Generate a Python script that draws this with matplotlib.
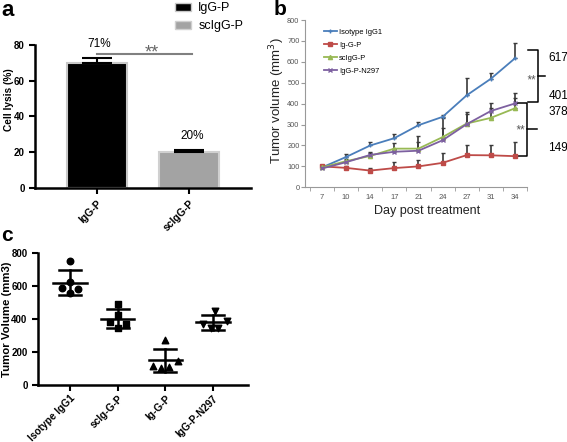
import numpy as np
import matplotlib
matplotlib.use("Agg")
import matplotlib.pyplot as plt
from matplotlib.patches import Patch

plt.rcParams['font.family'] = ['Liberation Sans', 'DejaVu Sans']

# ---- panel a data
a_labels = ["IgG-P", "scIgG-P"]
a_values = [70, 20]
a_err = [2.5, 1.5]
a_pct = ["71%", "20%"]

# ---- panel b data
days = [7, 10, 14, 17, 21, 24, 27, 31, 34]
iso = [95, 145, 200, 235, 297, 337, 440, 519, 617]
igg = [100, 93, 80, 92, 100, 117, 154, 153, 149]
scigg = [95, 125, 150, 185, 185, 240, 305, 332, 378]
n297 = [90, 120, 155, 170, 175, 225, 302, 365, 401]
iso_err = [0, 15, 15, 20, 16, 10, 84, 26, 73]
igg_err = [5, 8, 10, 28, 30, 45, 50, 50, 70]
scigg_err = [0, 10, 12, 25, 60, 90, 55, 45, 50]
n297_err = [0, 8, 12, 15, 40, 60, 50, 40, 48]
b_names = ["Isotype IgG1", "Ig-G-P", "scIgG-P", "IgG-P-N297"]
b_end_labels = ["617", "401", "378", "149"]

# ---- panel c data
c_labels = ["Isotype IgG1", "scIg-G-P", "Ig-G-P", "IgG-P-N297"]
c_iso = [750, 622, 586, 582, 556]
c_scigg = [489, 424, 380, 370, 347]
c_igg = [270, 145, 115, 105, 110]
c_n297 = [448, 368, 385, 342, 347]

fig = plt.figure(figsize=(5.67, 4.42), dpi=100)

# ================= panel a
axa = fig.add_axes([0.0617, 0.5747, 0.381, 0.3235])
xa = np.arange(len(a_values))
axa.bar(xa, a_values, width=0.65, color=["black", "#a3a3a3"],
        edgecolor=["#c8c8c8", "#d0d0d0"], linewidth=1.5)
axa.errorbar(xa, a_values, yerr=[[0, 0], a_err], fmt="none", ecolor="black",
             elinewidth=1.5, capsize=11, capthick=1.5)
for x, v, e, t in zip(xa, a_values, a_err, a_pct):
    axa.text(x + 0.03, v + e + 4.5, t, ha="center", va="bottom", fontsize=8.5)
axa.plot([0, 1.03], [75, 75], color="#808080", lw=1.5, clip_on=False)
axa.text(0.6, 75.3, "**", ha="center", va="center", fontsize=13, color="#666666")
axa.set_ylim(0, 80)
axa.set_xlim(-0.67, 1.67)
axa.set_yticks([0, 20, 40, 60, 80])
axa.set_xticks(xa)
axa.set_xticklabels(a_labels, rotation=45, ha="right", rotation_mode="anchor",
                    fontweight="bold", fontsize=7.5)
for lab in axa.get_yticklabels():
    lab.set_fontweight("bold")
axa.tick_params(axis="y", labelsize=7, width=1.5, length=4)
axa.tick_params(axis="x", width=1.5, length=4)
axa.set_ylabel("Cell lysis (%)", fontweight="bold", fontsize=7.3)
axa.yaxis.set_label_coords(-0.095, 0.62)
for s in ["top", "right"]:
    axa.spines[s].set_visible(False)
for s in ["left", "bottom"]:
    axa.spines[s].set_linewidth(1.8)
handles = [Patch(facecolor="black", edgecolor="#c8c8c8"),
           Patch(facecolor="#a3a3a3", edgecolor="#d0d0d0")]
fig.legend(handles, a_labels, loc="upper left", bbox_to_anchor=(0.288, 1.02),
           frameon=False, fontsize=9, handlelength=1.3, handleheight=0.6,
           labelspacing=0.45, handletextpad=0.6)
fig.text(0.002, 1.0, "a", fontsize=16, fontweight="bold", va="top")

# ================= panel b
axb = fig.add_axes([0.538, 0.5762, 0.3915, 0.3785])
xb = np.arange(len(days))
series = [(iso, iso_err, "#4a7ebb", "+"), (igg, igg_err, "#be4b48", "s"),
          (scigg, scigg_err, "#98b954", "^"), (n297, n297_err, "#7d60a0", "x")]
for (vals, err, col, mk), name in zip(series, b_names):
    axb.errorbar(xb, vals, yerr=[np.zeros(len(err)), err], fmt="none",
                 ecolor="#3a3a3a", elinewidth=1.2, capsize=1.5, capthick=1.0, zorder=2)
for (vals, err, col, mk), name in zip(series, b_names):
    axb.plot(xb, vals, color=col, marker=mk, markersize=3, lw=1.3, label=name,
             markeredgewidth=1, zorder=3)
axb.set_ylim(0, 800)
axb.set_xlim(-0.7, 8.5)
axb.set_yticks(np.arange(0, 801, 100))
axb.set_xticks(xb)
axb.set_xticklabels(days)
axb.set_xticks(np.arange(-0.5, 8.6, 1), minor=True)
axb.tick_params(axis="x", which="major", length=0, labelsize=5.5, colors="#555555", pad=5)
axb.tick_params(axis="x", which="minor", length=3, color="#999999")
axb.tick_params(axis="y", labelsize=5.3, colors="#555555", length=3, pad=1)
axb.tick_params(axis="y", color="#999999")
for s in ["top", "right"]:
    axb.spines[s].set_visible(False)
for s in ["left", "bottom"]:
    axb.spines[s].set_color("#999999")
    axb.spines[s].set_linewidth(0.8)
axb.set_ylabel("Tumor volume (mm$^3$)", fontsize=9.5, color="#222222")
axb.yaxis.set_label_coords(-0.083, 0.52)
axb.set_xlabel("Day post treatment", fontsize=9, color="#222222")
axb.xaxis.set_label_coords(0.55, -0.105)
axb.legend(loc="upper left", bbox_to_anchor=(0.065, 0.975), frameon=False,
           fontsize=5.4, handlelength=1.7, labelspacing=0.75, handletextpad=0.3,
           borderaxespad=0.2)

# brackets to the right of panel b
def bracket(ax, x, x_serif, x_tip, top, bottom):
    ax.plot([x_serif, x, x, x_serif], [top, top, bottom, bottom], color="black",
            lw=1.1, clip_on=False)
    mid = (top + bottom) / 2
    ax.plot([x, x_tip], [mid, mid], color="black", lw=1.1, clip_on=False)
    return mid

m1 = bracket(axb, 8.96, 8.55, 9.25, 656, 409)
axb.text(8.65, m1 - 20, "**", fontsize=8.5, color="#555555", ha="center",
         va="center", style="italic", clip_on=False)
m2 = bracket(axb, 8.5, 8.0, 8.92, 405, 151)
axb.text(8.2, m2 - 5, "**", fontsize=8.5, color="#555555", ha="center",
         va="center", style="italic", clip_on=False)
for lab, yy in zip(b_end_labels, [618, 438, 362, 188]):
    axb.text(9.38, yy, lab, fontsize=8.5, ha="left", va="center", clip_on=False)
fig.text(0.483, 1.0, "b", fontsize=15, fontweight="bold", va="top")

# ================= panel c
axc = fig.add_axes([0.067, 0.129, 0.370, 0.2993])
groups = [c_iso, c_scigg, c_igg, c_n297]
markers = ["o", "s", "^", "v"]
jitter = [[0, 0, -0.17, 0.17, 0], [0, 0, -0.17, 0.18, 0],
          [0, 0.26, -0.25, -0.08, 0.08], [0.04, -0.21, 0.29, -0.04, 0.1]]
for i, (g, mk, jt) in enumerate(zip(groups, markers, jitter)):
    axc.scatter(i + np.array(jt), g, marker=mk, color="black", s=22, zorder=3)
    mean = np.mean(g)
    sd = np.std(g, ddof=1)
    axc.plot([i - 0.35, i + 0.35], [mean, mean], color="black", lw=1.8)
    axc.plot([i, i], [mean - sd, mean + sd], color="black", lw=1.8)
    for yy in (mean - sd, mean + sd):
        axc.plot([i - 0.23, i + 0.23], [yy, yy], color="black", lw=1.8)
axc.set_ylim(0, 800)
axc.set_xlim(-0.67, 3.73)
axc.set_yticks([0, 200, 400, 600, 800])
axc.set_xticks(range(len(c_labels)))
axc.set_xticklabels(c_labels, rotation=45, ha="right", rotation_mode="anchor",
                    fontweight="bold", fontsize=7.3)
for lab in axc.get_yticklabels():
    lab.set_fontweight("bold")
axc.tick_params(axis="y", labelsize=7, width=1.5, length=4)
axc.tick_params(axis="x", width=1.5, length=4, pad=2)
axc.set_ylabel("Tumor Volume (mm3)", fontweight="bold", fontsize=8.2)
axc.yaxis.set_label_coords(-0.125, 0.5)
for s in ["top", "right"]:
    axc.spines[s].set_visible(False)
for s in ["left", "bottom"]:
    axc.spines[s].set_linewidth(1.8)
fig.text(0.002, 0.488, "c", fontsize=15, fontweight="bold", va="top")

fig.savefig("out.png", dpi=100)
